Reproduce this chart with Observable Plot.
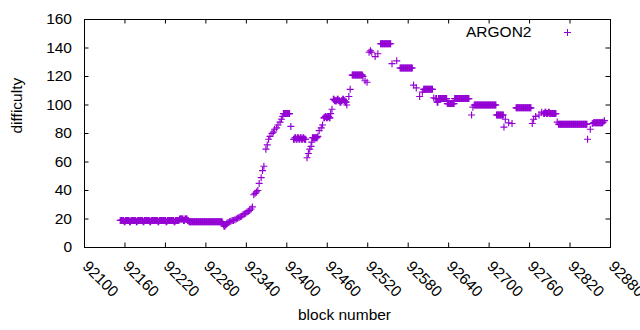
<!DOCTYPE html>
<html>
<head>
<meta charset="utf-8">
<script src="https://cdn.jsdelivr.net/npm/d3@7"></script>
<script src="https://cdn.jsdelivr.net/npm/@observablehq/plot@0.6"></script>
<style>
  html, body { margin: 0; padding: 0; background: #ffffff; }
  #chart { width: 640px; height: 330px; }
</style>
</head>
<body>
<div id="chart"></div>
<script>
const seriesName = "ARGON2";
const xLabel = "block number";
const yLabel = "difficulty";
const xTicks = [92100, 92160, 92220, 92280, 92340, 92400, 92460, 92520, 92580, 92640, 92700, 92760, 92820, 92880];
const yTicks = [0, 20, 40, 60, 80, 100, 120, 140, 160];

const blocks = [
  92153,92154,92155,92156,92157,92158,92159,92160,92161,92162,
  92163,92164,92165,92166,92167,92168,92169,92170,92171,92172,
  92173,92174,92175,92176,92177,92178,92179,92180,92181,92182,
  92183,92184,92185,92186,92187,92188,92189,92190,92191,92192,
  92193,92194,92195,92196,92197,92198,92199,92200,92201,92202,
  92203,92204,92205,92206,92207,92208,92209,92210,92211,92212,
  92213,92214,92215,92216,92217,92218,92219,92220,92221,92222,
  92223,92224,92225,92226,92227,92228,92229,92230,92231,92232,
  92233,92234,92235,92236,92237,92238,92239,92240,92241,92242,
  92243,92244,92245,92246,92247,92248,92249,92250,92251,92252,
  92253,92254,92255,92256,92257,92258,92259,92260,92261,92262,
  92263,92264,92265,92266,92267,92268,92269,92270,92271,92272,
  92273,92274,92275,92276,92277,92278,92279,92280,92281,92282,
  92283,92284,92285,92286,92287,92288,92289,92290,92291,92292,
  92293,92294,92295,92296,92297,92298,92299,92300,92301,92302,
  92303,92304,92305,92306,92307,92308,92309,92310,
  92311,92313,92315,92317,92319,92321,92323,92325,92327,92329,
  92331,92333,92335,92337,92339,92341,92343,92345,92347,92349,
  92351,92353,92355,92357,92359,92362,92364,92366,92369,92371,
  92373,92375,92378,92380,92382,92385,92387,92390,92392,92394,
  92395,92396,92397,92398,92399,92400,92401,92402,92403,92404,
  92406,
  92410,92411,92412,92413,92414,92415,92416,92417,92418,92419,
  92420,92421,92422,92423,92424,92425,92426,92427,92428,
  92430,92432,92434,92436,92437,
  92438,92439,92440,92441,92442,92443,92444,92445,92446,
  92448,92451,92453,
  92455,92456,92457,92458,92459,92460,92461,92462,92463,92464,
  92465,92467,
  92469,92470,92471,92472,92473,92474,92475,92476,92477,92478,
  92479,92480,92481,92482,92483,92484,92485,92486,92487,92488,
  92489,92492,92494,
  92497,92498,92499,92500,92501,92502,92503,92504,92505,92506,
  92507,92508,92509,92510,92511,92512,
  92513,92516,92519,92522,92524,92526,92531,92535,
  92539,92540,92541,92542,92543,92544,92545,92546,92547,92548,
  92549,92550,92551,92552,92553,92554,
  92556,92563,
  92568,92569,92570,92571,92572,92573,92574,92575,92576,92577,
  92578,92579,92580,92581,92582,92583,92584,92585,92586,
  92588,92592,92597,92601,
  92603,92604,92605,92606,92607,92608,92609,92610,92611,92612,
  92613,92614,92615,92616,
  92618,
  92621,92622,92623,92624,92625,92626,92627,92628,92629,92630,
  92631,92632,92633,92634,92635,92636,92637,
  92638,92639,92640,92641,92642,92643,92644,92645,92646,92647,
  92648,
  92649,92650,92651,92652,92653,92654,92655,92656,92657,92658,
  92659,92660,92661,92662,92663,92664,92665,92666,92667,92668,
  92669,92670,
  92674,92676,
  92678,92679,92680,92681,92682,92683,92684,92685,92686,92687,
  92688,92689,92690,92691,92692,92693,92694,92695,92696,92697,
  92698,92699,92700,92701,92702,92703,92704,92705,92706,92707,
  92708,92709,92710,
  92711,92712,92713,92714,92715,92716,92717,92718,92719,92720,
  92721,
  92722,92724,92729,92734,
  92740,92741,92742,92743,92744,92745,92746,92747,92748,92749,
  92750,92751,92752,92753,92754,92755,92756,92757,92758,92759,
  92760,92761,92762,
  92764,92766,92769,92774,92778,
  92781,92782,92783,92784,92785,92786,92787,92788,92789,92790,
  92791,92792,92793,92794,92795,92796,92797,92798,92799,
  92801,
  92803,92804,92805,92806,92807,92808,92809,92810,92811,92812,
  92813,92814,92815,92816,92817,92818,92819,92820,92821,92822,
  92823,92824,92825,92826,92827,92828,92829,92830,92831,92832,
  92833,92834,92835,92836,92837,92838,92839,92840,92841,92842,
  92843,92844,92845,
  92846,92850,92853,
  92855,92856,92857,92858,92859,92860,92861,92862,92863,92864,
  92865,92866,92867,92868,
  92869,92871
];

const difficulty = [
  19,19,19,19,19,19,18,18,19,19,
  19,19,19,19,18,18,19,19,19,19,
  19,19,19,19,18,18,19,19,19,19,
  19,19,19,19,18,18,19,19,19,19,
  19,19,19,19,18,18,19,19,19,19,
  19,19,19,19,19,19,18,18,19,19,
  19,19,19,19,19,19,19,19,18,18,
  19,19,19,19,19,19,19,19,19,19,
  18,18,19,19,19,19,19,19,20,20,
  20,20,20,20,19,19,20,20,20,20,
  19,19,18,18,18,18,18,18,18,18,
  18,18,18,18,18,18,18,18,18,18,
  18,18,18,18,18,18,18,18,18,18,
  18,18,18,18,18,18,18,18,18,18,
  18,18,18,18,18,18,18,18,18,18,
  18,18,17,16,15,15,16,16,
  17,17.5,18,18.5,19,19,19.5,20,20.5,21,
  21.5,22,23,23.5,24,25,25.5,26,27,28.5,
  37,38,39,40,45,49,54,57,69,72,
  76,78,80,81,83,84,86,88,90,92,
  94,94,94,94,94,94,94,94,94,94,
  85,
  76,76,77,77,76,76,77,77,76,76,
  77,77,76,76,77,77,76,76,76,
  63,66,69,71,74,
  77,77,77,77,77,77,77,77,78,
  82,84,86,
  91,91,92,92,91,91,92,92,91,91,
  94,97,
  104,104,103,103,103,103,104,104,103,103,
  102,102,103,103,104,104,103,103,102,102,
  100,106,111,
  121,121,121,121,121,121,121,121,121,121,
  121,121,121,121,121,121,
  120,117,116,137,138,137,134,136,
  143,143,143,143,143,143,143,143,143,143,
  143,143,143,143,143,143,
  129,131,
  126,126,126,126,126,126,126,126,126,126,
  126,126,126,126,126,126,126,126,126,
  114,112,106,109,
  111,111,111,111,111,111,111,111,111,111,
  111,111,111,111,
  105,
  104.5,104.5,102,102,104.5,104.5,104.5,104.5,104.5,104.5,
  104.5,104.5,104.5,104.5,104.5,104.5,104.5,
  101,101,101,101,101,101,101,101,101,101,
  101,
  104.5,104.5,104.5,104.5,104.5,104.5,104.5,104.5,104.5,104.5,
  104.5,104.5,104.5,104.5,104.5,104.5,104.5,104.5,104.5,104.5,
  104.5,104.5,
  93,98.5,
  100,100,100,100,100,100,100,100,100,100,
  100,100,100,100,100,100,100,100,100,100,
  100,100,100,100,100,100,100,100,100,100,
  100,100,100,
  93,93,93,93,93,93,93,93,93,93,
  93,
  84.5,90,87.5,87,
  98,98,98,98,98,98,98,98,98,98,
  98,98,98,98,98,98,98,98,98,98,
  98,98,98,
  87,90,92,93,95,
  94,94,95,95,94,94,94,95,95,94,
  94,94,94,94,94,94,94,94,94,
  88,
  86.5,86.5,86.5,86.5,86.5,86.5,86.5,86.5,86.5,86.5,
  86.5,86.5,86.5,86.5,86.5,86.5,86.5,86.5,86.5,86.5,
  86.5,86.5,86.5,86.5,86.5,86.5,86.5,86.5,86.5,86.5,
  86.5,86.5,86.5,86.5,86.5,86.5,86.5,86.5,86.5,86.5,
  86.5,86.5,86.5,
  76,83,87,
  87.5,87.5,87.5,87.5,87.5,87.5,87.5,87.5,87.5,87.5,
  87.5,87.5,87.5,87.5,
  88,89
];

if (blocks.length !== difficulty.length) console.error("length mismatch", blocks.length, difficulty.length);

const data = blocks.map((b, i) => ({block: b, difficulty: difficulty[i]}));

const purple = "#9400d3";
const plusSymbol = {
  draw(ctx) {
    const r = 3.5;
    ctx.moveTo(-r, 0); ctx.lineTo(r, 0);
    ctx.moveTo(0, -r); ctx.lineTo(0, r);
  }
};

const W = 640, H = 330;
const mL = 84, mR = 30, mT = 19, mB = 83;
const innerW = W - mL - mR, innerH = H - mT - mB;
const tickLen = 4.5;

const chart = Plot.plot({
  width: W,
  height: H,
  marginLeft: mL,
  marginRight: mR,
  marginTop: mT,
  marginBottom: mB,
  style: {fontFamily: "'Liberation Sans', Arial, sans-serif", fontSize: "15.5px", color: "#000", background: "#fff"},
  x: {domain: [xTicks[0], xTicks[xTicks.length - 1]], axis: null},
  y: {domain: [yTicks[0], yTicks[yTicks.length - 1]], axis: null},
  marks: [
    Plot.dot(data, {x: "block", y: "difficulty", symbol: plusSymbol, stroke: purple, fill: "none", strokeWidth: 1.15}),
    Plot.tickX(xTicks, {x: d => d, insetTop: innerH - tickLen, stroke: "#000"}),
    Plot.tickX(xTicks, {x: d => d, insetBottom: innerH - tickLen, stroke: "#000"}),
    Plot.tickY(yTicks, {y: d => d, insetRight: innerW - tickLen, stroke: "#000"}),
    Plot.tickY(yTicks, {y: d => d, insetLeft: innerW - tickLen, stroke: "#000"}),
    Plot.frame({stroke: "#000", strokeWidth: 1}),
    Plot.text(xTicks, {x: d => d, frameAnchor: "bottom", text: d => String(d), rotate: 45, textAnchor: "start", lineAnchor: "top", dx: 5, dy: 12, fill: "#000"}),
    Plot.text(yTicks, {y: d => d, frameAnchor: "left", text: d => String(d), textAnchor: "end", lineAnchor: "middle", dx: -12.5, fill: "#000"}),
    Plot.text([xLabel], {frameAnchor: "bottom", text: d => d, lineAnchor: "middle", dx: -3, dy: 68, fill: "#000"}),
    Plot.text([yLabel], {frameAnchor: "left", text: d => d, rotate: -90, lineAnchor: "middle", dx: -67, fill: "#000"}),
    Plot.text([seriesName], {frameAnchor: "top-right", text: d => d, textAnchor: "end", lineAnchor: "middle", dx: -79, dy: 13, fill: "#000"}),
    Plot.dot([seriesName], {frameAnchor: "top-right", symbol: plusSymbol, stroke: purple, fill: "none", strokeWidth: 1, dx: -43, dy: 13})
  ]
});

document.getElementById("chart").appendChild(chart);
</script>
</body>
</html>
